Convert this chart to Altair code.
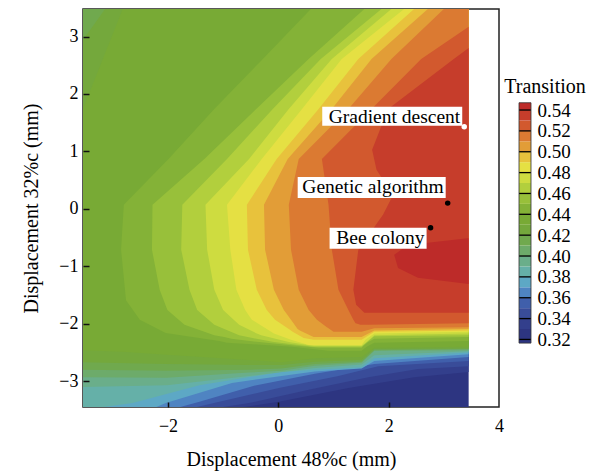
import altair as alt
import pandas as pd

FONT = "Liberation Serif"

# ---------------- axes ----------------
x_domain = [-3.54, 4.0]
y_domain = [-3.45, 3.48]
x_tick_values = [-2, 0, 2, 4]
y_tick_values = [-3, -2, -1, 0, 1, 2, 3]

# ---------------- contour levels ----------------
level_values = [0.32, 0.33, 0.34, 0.35, 0.36, 0.37, 0.38, 0.39, 0.40, 0.41, 0.42,
                0.43, 0.44, 0.45, 0.46, 0.47, 0.48, 0.49, 0.50, 0.51, 0.52, 0.53, 0.54]
level_colors = ["#2d3581", "#333f8c", "#394c99", "#405fab", "#4f84c2", "#5da8c5",
                "#65b0a8", "#6aae8a", "#6dab6a", "#70a94e", "#74a83c", "#78aa35",
                "#84b237", "#98c03a", "#b2cf3d", "#cedc40", "#e5e043", "#e8c23c",
                "#e29d37", "#db7a32", "#d2592e", "#c63d2b", "#bd2b29"]
colorbar_labels = [0.32, 0.34, 0.36, 0.38, 0.40, 0.42, 0.44, 0.46, 0.48, 0.50, 0.52, 0.54]
colorbar_extent = [0.3165, 0.547]
colorbar_domain = [0.2552, 0.6369]

# region ">= level" for low levels: (x, y_bottom, y_top)
t032 = [(-3.54, -3.50, 3.48), (3.45, -3.50, 3.48)]
t033 = [(-3.54, -3.50, 3.48), (-0.98, -3.50, 3.48), (0.01, -3.36, 3.48), (1.27, -3.12, 3.48),
        (2.46, -2.93, 3.48), (3.45, -2.84, 3.48)]
t034 = [(-3.54, -3.50, 3.48), (-1.34, -3.50, 3.48), (-0.53, -3.38, 3.48), (0.55, -3.15, 3.48),
        (1.63, -2.93, 3.48), (2.53, -2.79, 3.48), (3.45, -2.74, 3.48)]
t035 = [(-3.54, -3.50, 3.48), (-1.70, -3.50, 3.48), (-1.07, -3.36, 3.48), (0.01, -3.12, 3.48),
        (1.09, -2.91, 3.48), (1.81, -2.74, 3.48), (3.45, -2.65, 3.48)]
t036 = [(-3.54, -3.50, 3.48), (-1.97, -3.50, 3.48), (-1.43, -3.36, 3.48), (-0.44, -3.08, 3.48),
        (0.66, -2.87, 3.48), (1.74, -2.70, 3.48), (3.45, -2.58, 3.48)]
t037 = [(-3.54, -3.50, 3.48), (-2.33, -3.50, 3.48), (-2.04, -3.38, 3.48), (-0.84, -3.03, 3.48),
        (0.66, -2.83, 3.48), (1.51, -2.78, 3.48), (1.74, -2.65, 3.48), (3.45, -2.53, 3.48)]
t038 = [(-3.54, -3.50, 3.48), (-2.64, -3.38, 3.48), (-1.43, -3.07, 3.48), (0.06, -2.84, 3.48),
        (0.66, -2.80, 3.48), (1.51, -2.76, 3.48), (1.74, -2.60, 3.48), (3.45, -2.50, 3.48)]
t039 = [(-3.54, -3.10, 3.48), (-2.02, -3.07, 3.48), (-0.53, -2.91, 3.48), (0.66, -2.77, 3.48),
        (1.51, -2.71, 3.48), (1.74, -2.55, 3.48), (3.45, -2.48, 3.48)]
t040 = [(-3.54, -2.93, 3.48), (-2.02, -2.94, 3.48), (-0.53, -2.85, 3.48), (0.06, -2.82, 3.48),
        (0.66, -2.73, 3.48), (1.51, -2.68, 3.48), (1.74, -2.47, 3.48), (3.45, -2.46, 3.48)]
t041 = [(-3.54, -2.80, 3.48), (-2.02, -2.82, 3.48), (-0.53, -2.80, 3.48), (0.06, -2.78, 3.48),
        (0.66, -2.70, 3.48), (1.51, -2.66, 3.48), (1.74, -2.46, 3.48), (3.45, -2.44, 3.48)]
t042 = [(-3.54, -2.67, 2.94), (-3.14, -2.68, 3.48), (-2.02, -2.70, 3.48), (-0.53, -2.72, 3.48),
        (0.06, -2.72, 3.48), (0.66, -2.66, 3.48), (1.51, -2.63, 3.48), (1.74, -2.44, 3.48),
        (3.45, -2.43, 3.48)]
t043 = [(-3.54, -2.46, 1.74), (-2.82, -2.49, 3.48), (-2.02, -2.54, 3.48), (-0.53, -2.63, 3.48),
        (0.06, -2.67, 3.48), (0.66, -2.60, 3.48), (1.51, -2.58, 3.48), (1.74, -2.42, 3.48),
        (3.45, -2.40, 3.48)]

# region ">= level" for high levels: (y, x_left, x_right)
t044 = [(3.48, 0.59, 3.45), (2.61, -0.28, 3.45), (1.74, -1.16, 3.45), (0.87, -1.99, 3.45),
        (0.07, -2.80, 3.45), (-0.71, -2.85, 3.45), (-1.59, -2.76, 3.45), (-1.93, -2.51, 3.45),
        (-2.16, -2.04, 3.45), (-2.30, -1.07, 3.45), (-2.33, -0.93, 1.74), (-2.40, 0.25, 1.60),
        (-2.47, 0.91, 1.51)]
t045 = [(3.48, 1.56, 3.45), (2.61, 0.55, 3.45), (1.74, -0.40, 3.45), (0.87, -1.34, 3.45),
        (0.07, -2.28, 3.45), (-0.71, -2.29, 3.45), (-1.41, -2.15, 3.45), (-1.76, -2.01, 3.45),
        (-2.02, -1.70, 3.45), (-2.20, -1.16, 3.45), (-2.23, -0.98, 3.45), (-2.26, -0.85, 1.74),
        (-2.32, -0.35, 1.63), (-2.39, 0.37, 1.54), (-2.42, 0.73, 1.51)]
t046 = [(3.48, 1.87, 3.45), (2.61, 0.77, 3.45), (1.74, -0.10, 3.45), (0.87, -0.93, 3.45),
        (0.07, -1.74, 3.45), (-0.71, -1.76, 3.45), (-1.41, -1.61, 3.45), (-1.76, -1.47, 3.45),
        (-2.02, -1.16, 3.45), (-2.20, -0.71, 3.45), (-2.22, -0.62, 1.74), (-2.32, -0.08, 1.61),
        (-2.40, 0.64, 1.51)]
t047 = [(3.48, 2.05, 3.45), (2.61, 0.97, 3.45), (1.74, 0.19, 3.45), (0.87, -0.53, 3.45),
        (0.07, -1.32, 3.45), (-0.71, -1.29, 3.45), (-1.41, -1.16, 3.45), (-1.76, -1.00, 3.45),
        (-2.02, -0.71, 3.45), (-2.17, -0.39, 3.45), (-2.20, -0.31, 1.74), (-2.32, 0.19, 1.60),
        (-2.39, 0.64, 1.51)]
t048 = [(3.48, 2.28, 3.45), (2.61, 1.15, 3.45), (1.74, 0.43, 3.45), (0.87, -0.30, 3.45),
        (0.07, -0.93, 3.45), (-0.71, -0.87, 3.45), (-1.41, -0.76, 3.45), (-1.76, -0.60, 3.45),
        (-1.93, -0.48, 3.45), (-2.14, -0.13, 3.45), (-2.17, -0.08, 1.74), (-2.28, 0.23, 1.58),
        (-2.37, 0.55, 1.51)]
t049 = [(3.48, 2.46, 3.45), (2.61, 1.45, 3.45), (1.74, 0.73, 3.45), (0.87, -0.03, 3.45),
        (0.07, -0.57, 3.45), (-0.71, -0.55, 3.45), (-1.41, -0.39, 3.45), (-1.76, -0.21, 3.45),
        (-1.93, -0.06, 3.45), (-2.12, 0.23, 3.45), (-2.14, 0.26, 1.74), (-2.25, 0.46, 1.56),
        (-2.28, 0.64, 1.51)]
t050 = [(3.48, 2.71, 3.45), (2.61, 1.69, 3.45), (1.74, 0.97, 3.45), (0.87, 0.17, 3.45),
        (0.07, -0.26, 3.45), (-0.71, -0.24, 3.45), (-1.41, -0.08, 3.45), (-1.76, 0.10, 3.45),
        (-1.93, 0.23, 3.45), (-2.09, 0.35, 3.45), (-2.12, 0.39, 1.74), (-2.23, 0.64, 1.51)]
t051 = [(3.48, 3.00, 3.45), (2.61, 2.05, 3.45), (1.74, 1.27, 3.45), (0.87, 0.37, 3.45),
        (0.07, 0.19, 3.45), (-0.71, 0.23, 3.45), (-1.41, 0.37, 3.45), (-1.76, 0.55, 3.45),
        (-1.93, 0.70, 3.45), (-2.06, 0.88, 3.45), (-2.08, 0.91, 1.74), (-2.14, 1.00, 1.51)]
t052 = [(3.17, 3.45, 3.45), (2.61, 2.59, 3.45), (1.74, 1.69, 3.45), (0.87, 0.79, 3.45),
        (0.07, 0.91, 3.45), (-0.71, 0.97, 3.45), (-1.41, 1.09, 3.45), (-1.76, 1.27, 3.45),
        (-1.93, 1.36, 3.45), (-1.99, 1.40, 3.45), (-2.02, 1.49, 1.63)]
t053 = [(2.80, 3.45, 3.45), (2.61, 3.18, 3.45), (1.74, 1.99, 3.45), (1.03, 1.70, 3.45),
        (0.68, 1.78, 3.45), (0.24, 2.08, 3.45), (-0.10, 1.90, 3.45), (-0.71, 1.45, 3.45),
        (-1.41, 1.36, 3.45), (-1.67, 1.41, 3.45), (-1.81, 1.56, 3.45)]
t054 = [(-0.51, 3.43, 3.45), (-0.63, 2.35, 3.45), (-0.80, 2.10, 3.45), (-1.03, 2.17, 3.45),
        (-1.20, 2.53, 3.45), (-1.31, 3.45, 3.45)]

# ---------------- optimisation results ----------------
algorithms = ["Gradient descent", "Genetic algorithm", "Bee colony"]
alg_x = [3.37, 3.07, 2.76]
alg_y = [1.43, 0.10, -0.33]
alg_dot = ["white", "black", "black"]

# label box / text placement (pixels relative to the point)
ann_style = [
    dict(xo=-142, x2o=-2, yo=-20, y2o=-1, dx=-4, dy=-4),
    dict(xo=-150, x2o=-2, yo=-26, y2o=-5, dx=-4, dy=-10),
    dict(xo=-101, x2o=-4, yo=0, y2o=21, dx=-6, dy=16),
]

# ---------------- build ----------------
color_of = dict(zip(level_values, level_colors))


def xs():
    return alt.Scale(domain=x_domain, nice=False, zero=False)


def ys():
    return alt.Scale(domain=y_domain, nice=False, zero=False)


lower = [(0.32, t032), (0.33, t033), (0.34, t034), (0.35, t035), (0.36, t036), (0.37, t037),
         (0.38, t038), (0.39, t039), (0.40, t040), (0.41, t041), (0.42, t042), (0.43, t043)]
upper = [(0.44, t044), (0.45, t045), (0.46, t046), (0.47, t047), (0.48, t048), (0.49, t049),
         (0.50, t050), (0.51, t051), (0.52, t052), (0.53, t053), (0.54, t054)]

layers = []
for v, rows in lower:
    df = pd.DataFrame(rows, columns=["x", "y", "y2"])
    layers.append(
        alt.Chart(df).mark_area(orient="vertical", color=color_of[v], clip=True).encode(
            x=alt.X("x:Q", scale=xs(), axis=None),
            y=alt.Y("y:Q", scale=ys(), axis=None),
            y2="y2:Q",
        )
    )
for v, rows in upper:
    df = pd.DataFrame(rows, columns=["y", "x", "x2"])
    layers.append(
        alt.Chart(df).mark_area(orient="horizontal", color=color_of[v], clip=True).encode(
            y=alt.Y("y:Q", scale=ys(), axis=None),
            x=alt.X("x:Q", scale=xs(), axis=None),
            x2="x2:Q",
        )
    )

ann = pd.DataFrame({"name": algorithms, "ax": alg_x, "ay": alg_y, "dot": alg_dot})

# labelled axes (bottom / left)
layers.append(
    alt.Chart(ann).mark_point(opacity=0).encode(
        x=alt.X("ax:Q", scale=xs(), axis=alt.Axis(orient="bottom", values=x_tick_values,
                                                   title="Displacement 48%c (mm)",
                                                   ticks=False, tickSize=0, domain=False, grid=False,
                                                   labelFlush=False,
                                                   labelPadding=10, titlePadding=14)),
        y=alt.Y("ay:Q", scale=ys(), axis=alt.Axis(orient="left", values=y_tick_values,
                                                   title="Displacement 32%c (mm)",
                                                   ticks=False, tickSize=0, domain=False, grid=False,
                                                   labelFlush=False,
                                                   labelPadding=5, titlePadding=17)),
    )
)
# inward tick marks
layers.append(
    alt.Chart(ann).mark_point(opacity=0).encode(
        x=alt.X("ax:Q", scale=xs(), axis=alt.Axis(orient="top", offset=-398, values=[-2, 0, 2],
                                                   labels=False, domain=False, grid=False, tickSize=5,
                                                   tickWidth=1.5, tickColor="#111111", title=None,
                                                   zindex=2)),
        y=alt.Y("ay:Q", scale=ys(), axis=alt.Axis(orient="right", offset=-416, values=y_tick_values,
                                                   labels=False, domain=False, grid=False, tickSize=6,
                                                   tickWidth=1.5, tickColor="#111111", title=None,
                                                   zindex=2)),
    )
)

for i, st in enumerate(ann_style):
    d = ann.iloc[[i]]
    layers.append(
        alt.Chart(d).mark_rect(color="white", xOffset=st["xo"], x2Offset=st["x2o"],
                               yOffset=st["yo"], y2Offset=st["y2o"]).encode(
            x=alt.X("ax:Q", scale=xs(), axis=None), x2="ax:Q",
            y=alt.Y("ay:Q", scale=ys(), axis=None), y2="ay:Q",
        )
    )
    layers.append(
        alt.Chart(d).mark_text(align="right", baseline="alphabetic", dx=st["dx"], dy=st["dy"],
                               font=FONT, fontSize=19.5, color="black").encode(
            x=alt.X("ax:Q", scale=xs(), axis=None),
            y=alt.Y("ay:Q", scale=ys(), axis=None),
            text="name:N",
        )
    )

layers.append(
    alt.Chart(ann).mark_circle(size=30, opacity=1).encode(
        x=alt.X("ax:Q", scale=xs(), axis=None),
        y=alt.Y("ay:Q", scale=ys(), axis=None),
        color=alt.Color("dot:N", scale=None),
    )
)

# ---------------- colour bar ----------------
def cbx():
    return alt.Scale(domain=[0, 1], range=[436, 448])


def cby():
    return alt.Scale(domain=colorbar_domain, nice=False, zero=False)


cb = pd.DataFrame({
    "lo": [colorbar_extent[0]] + level_values[1:],
    "hi": level_values[1:] + [colorbar_extent[1]],
    "color": level_colors,
})
layers.append(alt.Chart(cb).mark_rect().encode(
    x=alt.XDatum(0, scale=cbx(), axis=None),
    x2=alt.X2Datum(1),
    y=alt.Y("lo:Q", scale=cby(), axis=alt.Axis(orient="right", offset=32, values=colorbar_labels,
                                                format=".2f", ticks=False, tickSize=0, domain=False,
                                                grid=False, labelPadding=6, labelFontSize=19,
                                                labelFlush=False, title=None)),
    y2="hi:Q",
    color=alt.Color("color:N", scale=None),
))
layers.append(alt.Chart(pd.DataFrame({"v": colorbar_labels})).mark_rule(color="black", strokeWidth=1.3).encode(
    y=alt.Y("v:Q", scale=cby(), axis=None),
    x=alt.XDatum(0, scale=cbx(), axis=None),
    x2=alt.X2Datum(1),
))
layers.append(alt.Chart(pd.DataFrame({"lo": [colorbar_extent[0]], "hi": [colorbar_extent[1]]})).mark_rect(
    fillOpacity=0, stroke="#333333", strokeWidth=0.8).encode(
    y=alt.Y("lo:Q", scale=cby(), axis=None),
    y2="hi:Q",
    x=alt.XDatum(0, scale=cbx(), axis=None),
    x2=alt.X2Datum(1),
))
layers.append(alt.Chart(pd.DataFrame({"t": ["Transition"]})).mark_text(
    font=FONT, fontSize=20, align="center", baseline="alphabetic", color="black").encode(
    x=alt.value(462), y=alt.value(84), text="t:N"))

chart = alt.layer(*layers).resolve_scale(x="independent", y="independent").properties(
    width=416, height=398,
    autosize=alt.AutoSizeParams(type="none"),
    padding={"left": 75, "top": 1, "right": 90, "bottom": 64},
).configure_view(stroke="#222222", strokeWidth=1.5).configure_axis(
    labelFont=FONT, titleFont=FONT, labelFontSize=18, titleFontSize=20,
    labelColor="black", titleColor="black", titleFontWeight="normal",
)

chart.save("out.html", embed_options={"renderer": "svg", "actions": False})
